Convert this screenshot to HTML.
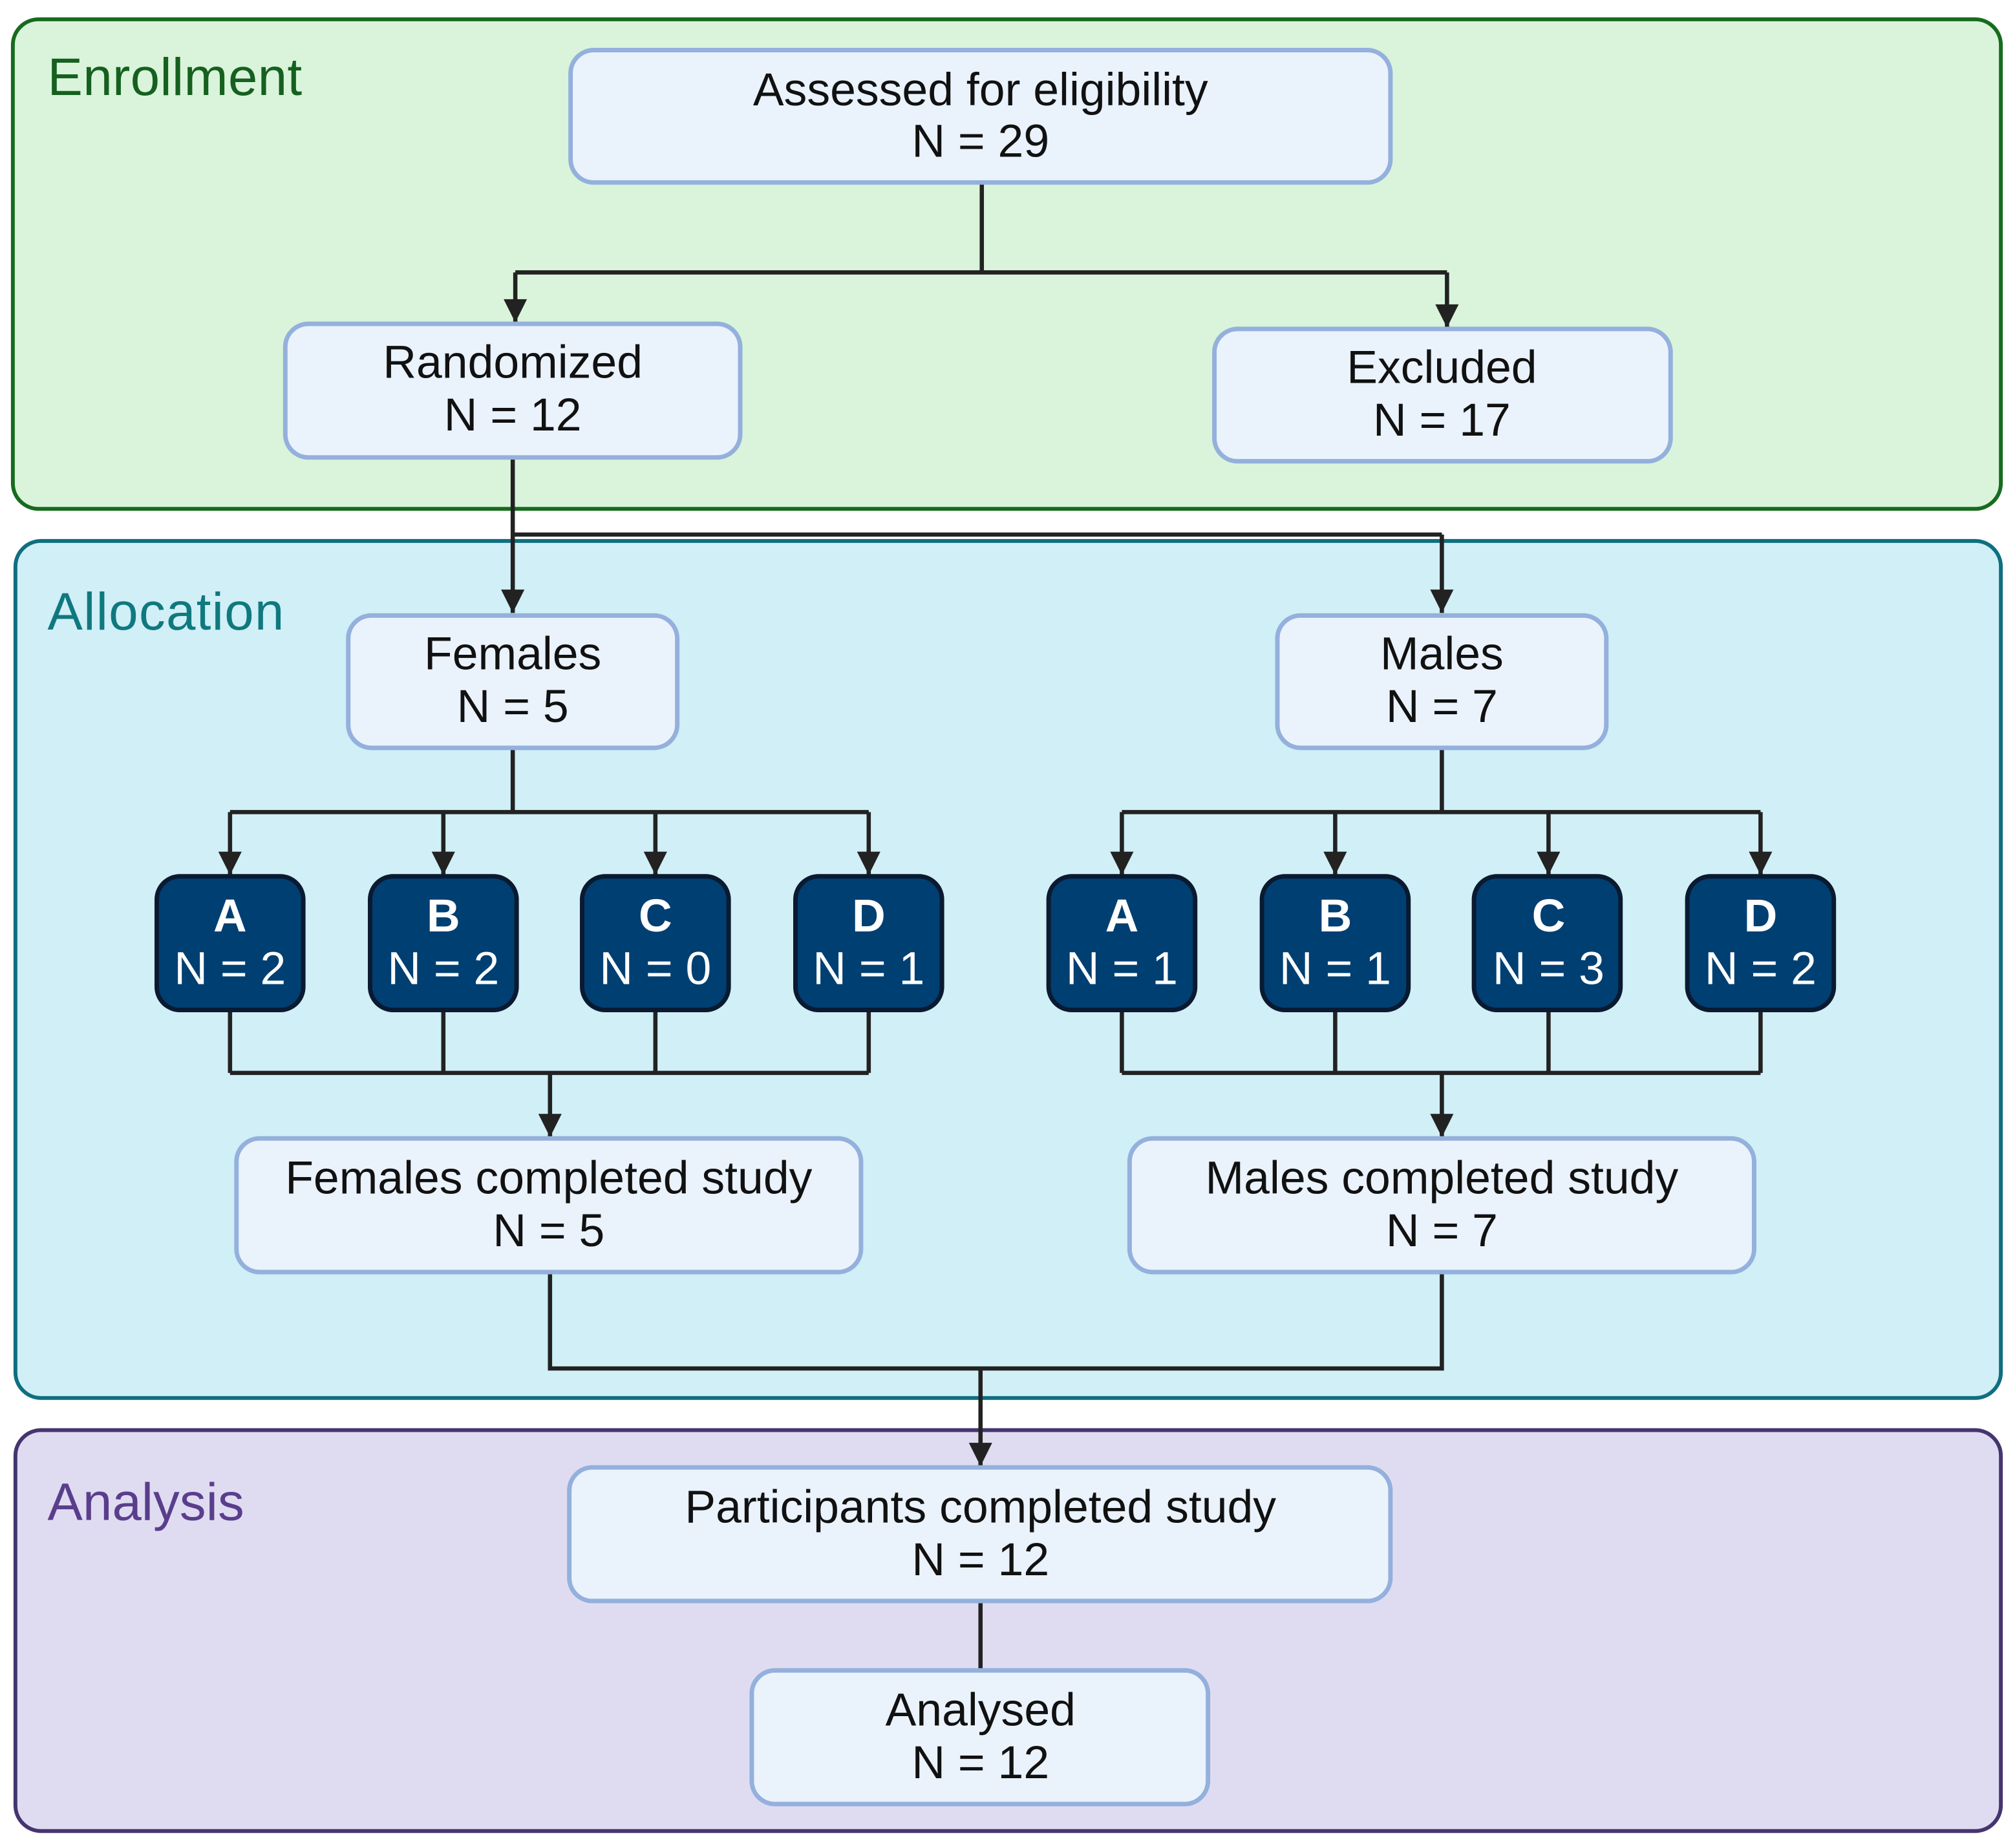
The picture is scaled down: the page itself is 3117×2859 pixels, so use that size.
<!DOCTYPE html>
<html><head><meta charset="utf-8"><style>html,body{margin:0;padding:0;background:#fff}svg{display:block}</style></head>
<body>
<svg xmlns="http://www.w3.org/2000/svg" width="3117" height="2859" viewBox="0 0 1568 1438.2">
<defs>
<marker id="ar" viewBox="0 0 10 10" refX="10" refY="5" markerWidth="6" markerHeight="5.5" orient="auto" markerUnits="strokeWidth">
<path d="M0,0 L10,5 L0,10 z" fill="#222"/></marker>
</defs>
<rect x="0" y="0" width="1568" height="1439" fill="#fff"/>
<rect x="10" y="15" width="1547" height="381" rx="20" fill="#d9f4da" stroke="#176b1e" stroke-width="3"/>
<rect x="12" y="421" width="1545" height="667" rx="20" fill="#d0eff6" stroke="#0f6f80" stroke-width="3"/>
<rect x="12" y="1113" width="1545" height="312" rx="20" fill="#dfdcf2" stroke="#44356f" stroke-width="3"/>
<g font-family="Liberation Sans, sans-serif" font-size="41">
<text x="37" y="74" fill="#16601f" textLength="198">Enrollment</text>
<text x="37" y="490" fill="#10787f" textLength="184">Allocation</text>
<text x="37" y="1183" fill="#5a3e8c" textLength="153">Analysis</text>
</g>
<g fill="none" stroke="#222" stroke-width="3.3">
<path d="M764 142 V212 M401 212 H1126"/>
<path d="M401 212 V251" marker-end="url(#ar)"/>
<path d="M1126 212 V255" marker-end="url(#ar)"/>
<path d="M399 356 V477" marker-end="url(#ar)"/>
<path d="M399 416 H1122"/>
<path d="M1122 416 V477" marker-end="url(#ar)"/>
<path d="M399 582 V632 M179 632 H676 M1122 582 V632 M873 632 H1370"/>
<path d="M179 632 V681" marker-end="url(#ar)"/><path d="M345 632 V681" marker-end="url(#ar)"/><path d="M510 632 V681" marker-end="url(#ar)"/><path d="M676 632 V681" marker-end="url(#ar)"/>
<path d="M873 632 V681" marker-end="url(#ar)"/><path d="M1039 632 V681" marker-end="url(#ar)"/><path d="M1205 632 V681" marker-end="url(#ar)"/><path d="M1370 632 V681" marker-end="url(#ar)"/>
<path d="M179 786 V835 M345 786 V835 M510 786 V835 M676 786 V835 M179 835 H676"/>
<path d="M873 786 V835 M1039 786 V835 M1205 786 V835 M1370 786 V835 M873 835 H1370"/>
<path d="M428 835 V885" marker-end="url(#ar)"/>
<path d="M1122 835 V885" marker-end="url(#ar)"/>
<path d="M428 990 V1065 H1122 V990"/>
<path d="M763 1065 V1141" marker-end="url(#ar)"/>
<path d="M763 1246 V1300"/>
</g>
<g fill="#eaf2fc" stroke="#94b0dc" stroke-width="3.5">
<rect x="444" y="39" width="638" height="103" rx="18"/>
<rect x="222" y="252" width="354" height="104" rx="18"/>
<rect x="945" y="256" width="355" height="103" rx="18"/>
<rect x="271" y="479" width="256" height="103" rx="18"/>
<rect x="994" y="479" width="256" height="103" rx="18"/>
<rect x="184" y="886" width="486" height="104" rx="18"/>
<rect x="879" y="886" width="486" height="104" rx="18"/>
<rect x="443" y="1142" width="639" height="104" rx="18"/>
<rect x="585" y="1300" width="355" height="104" rx="18"/>
</g>
<g fill="#003f72" stroke="#0a1a30" stroke-width="3.5">
<rect x="122" y="682" width="114" height="104" rx="18"/>
<rect x="288" y="682" width="114" height="104" rx="18"/>
<rect x="453" y="682" width="114" height="104" rx="18"/>
<rect x="619" y="682" width="114" height="104" rx="18"/>
<rect x="816" y="682" width="114" height="104" rx="18"/>
<rect x="982" y="682" width="114" height="104" rx="18"/>
<rect x="1147" y="682" width="114" height="104" rx="18"/>
<rect x="1313" y="682" width="114" height="104" rx="18"/>
</g>
<g font-family="Liberation Sans, sans-serif" font-size="36" fill="#111" text-anchor="middle">
<text x="763" y="82">Assessed for eligibility</text><text x="763" y="122">N = 29</text>
<text x="399" y="294">Randomized</text><text x="399" y="335">N = 12</text>
<text x="1122" y="298">Excluded</text><text x="1122" y="339">N = 17</text>
<text x="399" y="521">Females</text><text x="399" y="562">N = 5</text>
<text x="1122" y="521">Males</text><text x="1122" y="562">N = 7</text>
<text x="427" y="929">Females completed study</text><text x="427" y="970">N = 5</text>
<text x="1122" y="929">Males completed study</text><text x="1122" y="970">N = 7</text>
<text x="763" y="1185">Participants completed study</text><text x="763" y="1226">N = 12</text>
<text x="763" y="1343">Analysed</text><text x="763" y="1384">N = 12</text>
</g>
<g font-family="Liberation Sans, sans-serif" font-size="36" fill="#fff" text-anchor="middle">
<g font-weight="bold">
<text x="179" y="725">A</text><text x="345" y="725">B</text><text x="510" y="725">C</text><text x="676" y="725">D</text>
<text x="873" y="725">A</text><text x="1039" y="725">B</text><text x="1205" y="725">C</text><text x="1370" y="725">D</text>
</g>
<text x="179" y="766">N = 2</text><text x="345" y="766">N = 2</text><text x="510" y="766">N = 0</text><text x="676" y="766">N = 1</text>
<text x="873" y="766">N = 1</text><text x="1039" y="766">N = 1</text><text x="1205" y="766">N = 3</text><text x="1370" y="766">N = 2</text>
</g>
</svg>
</body></html>
